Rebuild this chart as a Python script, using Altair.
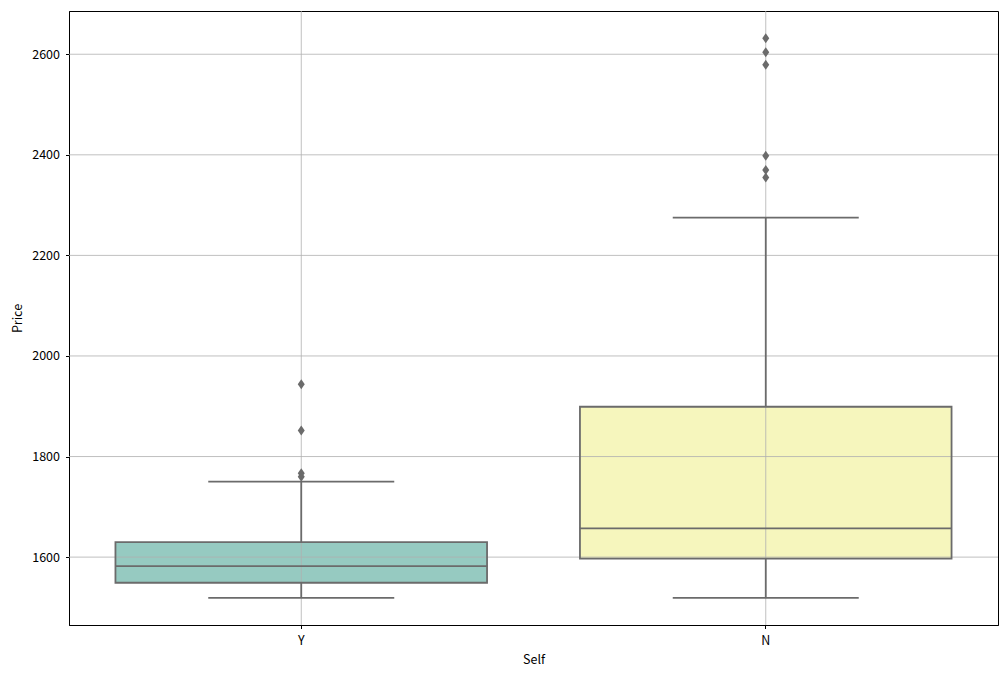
import altair as alt
import pandas as pd

categories = ["Y", "N"]
q1 = [1549, 1597]
median = [1582, 1657]
q3 = [1630, 1899]
whisker_low = [1519, 1519]
whisker_high = [1750, 2275]
fills = ["#96cac1", "#f6f6bd"]

outlier_cat = ["Y", "Y", "Y", "Y", "N", "N", "N", "N", "N", "N"]
outlier_val = [1760, 1767, 1852, 1944, 2355, 2370, 2398, 2579, 2604, 2632]

y_ticks = [1600, 1800, 2000, 2200, 2400, 2600]

GRAY = "#6b6b6b"
GRID = "#b0b0b0"
FONT = "Noto Sans CJK KR"

stats = pd.DataFrame({
    "Self": categories, "q1": q1, "median": median, "q3": q3,
    "lo": whisker_low, "hi": whisker_high, "fill": fills,
})
outl = pd.DataFrame({"Self": outlier_cat, "Price": outlier_val})
grid_df = pd.DataFrame({"v": y_ticks})

xscale = alt.Scale(domain=categories, paddingInner=0, paddingOuter=0)
yscale = alt.Scale(domain=[1465, 2686], nice=False, zero=False)

common_axis = dict(grid=False, tickColor="black", tickSize=3.5, tickWidth=1,
                   domainColor="black", domainWidth=1,
                   labelFont=FONT, titleFont=FONT, labelFontSize=12.5, titleFontSize=12.5,
                   labelColor="black", titleColor="black", titleFontWeight="normal")

xenc = alt.X("Self:N", scale=xscale, sort=categories,
             axis=alt.Axis(title="Self", labelAngle=0, labelPadding=6,
                           titlePadding=6, **common_axis))
yaxis = alt.Axis(title="Price", values=y_ticks, format="d", labelPadding=6,
                 titlePadding=7, **common_axis)

base = alt.Chart(stats)
X = alt.X("Self:N", scale=xscale, sort=categories)

box_fill = base.mark_bar(width=alt.RelativeBandSize(0.8), strokeWidth=0, opacity=1).encode(
    x=xenc,
    y=alt.Y("q1:Q", scale=yscale, axis=yaxis),
    y2="q3:Q",
    color=alt.Color("fill:N", scale=None),
)

hgrid = alt.Chart(grid_df).mark_rule(color=GRID, strokeWidth=0.8).encode(
    y=alt.Y("v:Q", scale=yscale)
)
vgrid = base.mark_rule(color=GRID, strokeWidth=0.8).encode(x=X)

LW = 1.8
whisk_lo = base.mark_rule(color=GRAY, strokeWidth=LW).encode(
    x=X, y=alt.Y("lo:Q", scale=yscale), y2="q1:Q")
whisk_hi = base.mark_rule(color=GRAY, strokeWidth=LW).encode(
    x=X, y=alt.Y("q3:Q", scale=yscale), y2="hi:Q")

box_edge = base.mark_bar(width=alt.RelativeBandSize(0.8), fillOpacity=0,
                         stroke=GRAY, strokeWidth=LW).encode(
    x=X, y=alt.Y("q1:Q", scale=yscale), y2="q3:Q")

med = base.mark_tick(color=GRAY, size=372, thickness=LW, opacity=1).encode(
    x=X, y=alt.Y("median:Q", scale=yscale))
cap_lo = base.mark_tick(color=GRAY, size=186, thickness=LW, opacity=1).encode(
    x=X, y=alt.Y("lo:Q", scale=yscale))
cap_hi = base.mark_tick(color=GRAY, size=186, thickness=LW, opacity=1).encode(
    x=X, y=alt.Y("hi:Q", scale=yscale))

pts = alt.Chart(outl).mark_point(shape="M0,-1L0.7,0L0,1L-0.7,0Z", filled=True,
                                 color=GRAY, opacity=1, size=100).encode(
    x=X, y=alt.Y("Price:Q", scale=yscale))

chart = alt.layer(box_fill, hgrid, vgrid, whisk_lo, whisk_hi, box_edge, med,
                  cap_lo, cap_hi, pts).properties(
    width=929, height=614,
    autosize=alt.AutoSizeParams(type="none"),
    padding={"left": 61, "top": 3, "right": 2, "bottom": 44},
    background="white",
).configure_view(stroke="black", strokeWidth=1)

chart.save("out.html", embed_options={"renderer": "svg", "actions": False})
